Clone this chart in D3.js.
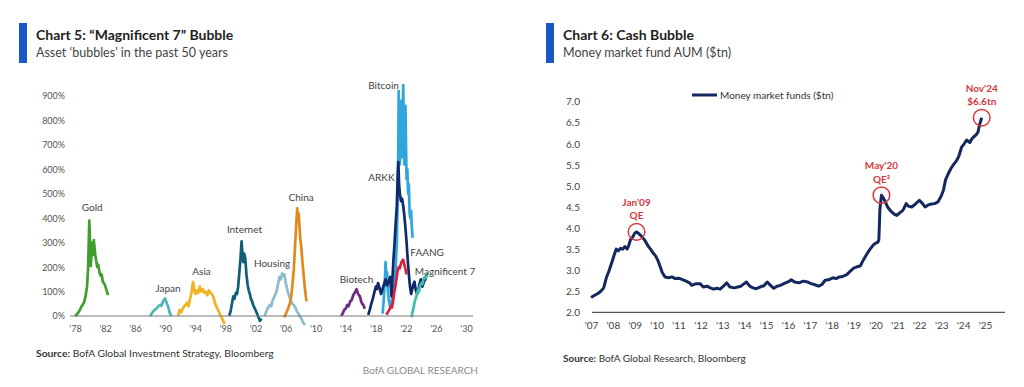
<!DOCTYPE html>
<html><head><meta charset="utf-8">
<script src="https://cdn.jsdelivr.net/npm/d3@7"></script>
<style>html,body{margin:0;padding:0;background:#fff;} svg{display:block;font-family:Lato,"Open Sans",sans-serif;}</style>
</head><body>
<svg id="c" width="1024" height="387"></svg>
<script>
// ---------- Chart 5 data ([year, % gain]) ----------
const gold = [[1978.0,0],[1978.3,8],[1978.6,22],[1978.9,40],[1979.2,55],[1979.4,80],[1979.6,120],[1979.75,200],[1979.9,390],[1980.0,300],[1980.1,205],[1980.2,260],[1980.3,300],[1980.4,250],[1980.5,310],[1980.6,280],[1980.7,250],[1980.8,230],[1980.95,200],[1981.1,210],[1981.25,180],[1981.4,165],[1981.55,170],[1981.7,140],[1981.85,135],[1982.0,125],[1982.15,110],[1982.3,95],[1982.4,85]];
const japan = [[1988.0,0],[1988.3,15],[1988.6,25],[1988.86,31],[1989.1,40],[1989.3,45],[1989.5,42],[1989.7,60],[1989.97,72],[1990.2,52],[1990.4,38],[1990.6,12],[1990.85,0]];
const asia = [[1991.7,0],[1991.9,25],[1992.1,15],[1992.4,35],[1992.7,45],[1992.9,55],[1993.1,40],[1993.3,70],[1993.5,95],[1993.7,140],[1993.85,110],[1994.0,90],[1994.2,105],[1994.4,95],[1994.6,120],[1994.8,100],[1995.0,110],[1995.2,95],[1995.4,100],[1995.6,85],[1995.8,105],[1996.0,95],[1996.2,90],[1996.4,78],[1996.6,55],[1996.85,35],[1997.1,20],[1997.3,5],[1997.5,-5],[1997.7,-20],[1997.9,-32]];
const internet = [[1998.5,0],[1998.7,20],[1998.9,55],[1999.05,80],[1999.2,70],[1999.4,95],[1999.55,90],[1999.7,120],[1999.85,175],[2000.0,230],[2000.15,305],[2000.3,240],[2000.4,220],[2000.5,255],[2000.65,235],[2000.8,170],[2000.95,130],[2001.1,105],[2001.25,90],[2001.4,70],[2001.55,60],[2001.7,45],[2001.85,35],[2002.0,25],[2002.2,10],[2002.4,-5],[2002.6,-20],[2002.8,-10]];
const housing = [[2003.2,0],[2003.4,15],[2003.6,30],[2003.9,45],[2004.1,40],[2004.3,65],[2004.6,85],[2004.8,100],[2005.0,130],[2005.2,160],[2005.4,150],[2005.55,175],[2005.7,165],[2005.85,170],[2006.0,140],[2006.15,120],[2006.3,100],[2006.5,80],[2006.7,65],[2006.9,50],[2007.1,45],[2007.3,35],[2007.5,20],[2007.7,10],[2007.9,0],[2008.1,-10],[2008.3,-25],[2008.6,-37]];
const china = [[2005.8,-5],[2006.0,5],[2006.2,20],[2006.4,35],[2006.6,55],[2006.8,90],[2006.95,140],[2007.1,190],[2007.25,280],[2007.4,360],[2007.55,440],[2007.65,400],[2007.75,420],[2007.85,370],[2007.95,320],[2008.1,280],[2008.25,220],[2008.4,170],[2008.55,120],[2008.7,80],[2008.8,60]];
const biotech = [[2013.4,0],[2013.6,10],[2013.8,25],[2014.0,30],[2014.2,45],[2014.4,40],[2014.6,60],[2014.8,65],[2015.0,85],[2015.2,95],[2015.45,110],[2015.6,95],[2015.75,85],[2015.9,80],[2016.05,60],[2016.2,50],[2016.35,45],[2016.55,30]];
const bitcoin = [[2018.9,10],[2019.05,60],[2019.2,140],[2019.3,220],[2019.4,150],[2019.5,180],[2019.6,110],[2019.75,60],[2019.9,40],[2020.05,55],[2020.2,70],[2020.35,90],[2020.5,130],[2020.65,200],[2020.8,300],[2020.9,450],[2021.0,700],[2021.05,920],[2021.12,750],[2021.2,620],[2021.3,700],[2021.4,880],[2021.48,650],[2021.55,720],[2021.65,945],[2021.72,800],[2021.8,620],[2021.88,760],[2021.95,860],[2022.02,700],[2022.1,560],[2022.2,600],[2022.3,500],[2022.4,540],[2022.5,420],[2022.6,400],[2022.7,430],[2022.8,360],[2022.9,320]];
const arkk = [[2017.0,5],[2017.2,25],[2017.4,50],[2017.6,70],[2017.8,95],[2018.0,120],[2018.15,110],[2018.3,135],[2018.5,115],[2018.7,90],[2018.9,110],[2019.1,130],[2019.3,150],[2019.5,125],[2019.7,140],[2019.9,160],[2020.1,80],[2020.2,140],[2020.35,230],[2020.5,300],[2020.65,380],[2020.8,450],[2020.9,560],[2021.0,630],[2021.1,540],[2021.2,500],[2021.35,470],[2021.5,480],[2021.65,450],[2021.8,410],[2021.95,360],[2022.1,300],[2022.25,230],[2022.4,170],[2022.55,120],[2022.7,90],[2022.85,110],[2023.0,130],[2023.15,140],[2023.3,110],[2023.5,90],[2023.65,100],[2023.8,130],[2024.0,150],[2024.2,120],[2024.4,140],[2024.6,150],[2024.75,165]];
const faang = [[2019.4,5],[2019.6,15],[2019.8,25],[2020.0,40],[2020.15,35],[2020.3,60],[2020.45,95],[2020.6,120],[2020.75,150],[2020.9,185],[2021.05,200],[2021.2,195],[2021.35,215],[2021.5,225],[2021.65,230],[2021.8,210],[2021.95,190],[2022.1,170]];
const mag7 = [[2022.75,-5],[2022.85,10],[2023.0,30],[2023.15,55],[2023.3,70],[2023.45,85],[2023.6,105],[2023.75,100],[2023.9,125],[2024.05,135],[2024.2,130],[2024.35,150],[2024.5,160],[2024.65,155],[2024.8,170],[2024.95,175]];
const bubbleNames = ["Gold","Japan","Asia","Internet","Housing","China","Biotech","Bitcoin","ARKK","FAANG","Magnificent 7"];
const bubbleSeries = [gold,japan,asia,internet,housing,china,biotech,bitcoin,arkk,faang,mag7];
const leftYTicks = [0,100,200,300,400,500,600,700,800,900];
const leftXTicks = [1978,1982,1986,1990,1994,1998,2002,2006,2010,2014,2018,2022,2026,2030];

// ---------- Chart 6 data ([year, $tn]) ----------
const mmf = [[2007.0,2.35],[2007.15,2.40],[2007.3,2.44],[2007.45,2.50],[2007.58,2.58],[2007.7,2.82],[2007.82,2.98],[2007.95,3.18],[2008.05,3.35],[2008.15,3.50],[2008.25,3.46],[2008.35,3.52],[2008.45,3.50],[2008.55,3.56],[2008.65,3.50],[2008.72,3.58],[2008.8,3.72],[2008.9,3.78],[2009.0,3.88],[2009.08,3.91],[2009.2,3.86],[2009.35,3.78],[2009.47,3.70],[2009.6,3.58],[2009.72,3.50],[2009.85,3.40],[2009.95,3.34],[2010.05,3.24],[2010.15,3.10],[2010.25,2.95],[2010.38,2.84],[2010.55,2.82],[2010.7,2.84],[2010.85,2.80],[2011.0,2.81],[2011.15,2.78],[2011.35,2.74],[2011.5,2.70],[2011.6,2.64],[2011.8,2.68],[2011.98,2.68],[2012.13,2.60],[2012.3,2.62],[2012.45,2.58],[2012.6,2.55],[2012.75,2.57],[2012.9,2.55],[2013.05,2.62],[2013.2,2.70],[2013.35,2.60],[2013.55,2.58],[2013.7,2.60],[2013.85,2.62],[2014.0,2.68],[2014.1,2.72],[2014.25,2.62],[2014.4,2.58],[2014.55,2.56],[2014.72,2.60],[2014.9,2.63],[2015.05,2.72],[2015.2,2.64],[2015.35,2.57],[2015.5,2.62],[2015.65,2.64],[2015.86,2.69],[2016.0,2.72],[2016.15,2.77],[2016.3,2.72],[2016.5,2.70],[2016.7,2.74],[2016.9,2.72],[2017.05,2.68],[2017.2,2.66],[2017.4,2.62],[2017.55,2.66],[2017.7,2.76],[2017.9,2.78],[2018.05,2.82],[2018.2,2.80],[2018.35,2.84],[2018.5,2.85],[2018.7,2.90],[2018.85,2.98],[2019.0,3.05],[2019.15,3.08],[2019.3,3.10],[2019.45,3.25],[2019.6,3.38],[2019.75,3.50],[2019.9,3.60],[2020.0,3.64],[2020.1,3.66],[2020.15,3.72],[2020.2,4.45],[2020.27,4.78],[2020.35,4.72],[2020.45,4.62],[2020.55,4.50],[2020.7,4.40],[2020.85,4.33],[2020.97,4.30],[2021.1,4.36],[2021.25,4.42],[2021.4,4.58],[2021.5,4.52],[2021.65,4.50],[2021.8,4.56],[2022.0,4.66],[2022.15,4.58],[2022.26,4.50],[2022.4,4.55],[2022.55,4.57],[2022.7,4.58],[2022.85,4.62],[2023.0,4.76],[2023.1,4.90],[2023.2,5.15],[2023.33,5.30],[2023.45,5.42],[2023.55,5.50],[2023.7,5.60],[2023.8,5.70],[2023.93,5.92],[2024.05,6.00],[2024.16,6.09],[2024.31,6.03],[2024.4,6.12],[2024.5,6.17],[2024.6,6.22],[2024.68,6.28],[2024.75,6.45],[2024.85,6.62]];
const rightYTicks = [2.0,2.5,3.0,3.5,4.0,4.5,5.0,5.5,6.0,6.5,7.0];
const rightXTicks = d3.range(2007, 2026);
const annotations = [
  {date:2009.08, value:3.91, lines:["Jan'09","QE"]},
  {date:2020.27, value:4.78, lines:["May'20","QE²"]},
  {date:2024.85, value:6.62, lines:["Nov'24","$6.6tn"]}
];

const svg = d3.select("#c");
svg.append("rect").attr("width",1024).attr("height",387).attr("fill","#fff");

function header(x, title, sub){
  svg.append("rect").attr("x",x).attr("y",23).attr("width",8).attr("height",40).attr("fill","#1a56c4");
  svg.append("text").attr("x",x+17).attr("y",40).attr("font-size",14).attr("font-weight",700).attr("fill","#222").text(title);
  svg.append("text").attr("x",x+17).attr("y",57).attr("font-size",12.5).attr("fill","#444").text(sub);
}
header(19, "Chart 5: “Magnificent 7” Bubble", "Asset ‘bubbles’ in the past 50 years");
header(546, "Chart 6: Cash Bubble", "Money market fund AUM ($tn)");

// ---------- Left chart ----------
const xL = d3.scaleLinear().domain([1978,2030]).range([75,466]);
const yL = d3.scaleLinear().domain([0,900]).range([316,96]);
const colors = ["#3f9e2c","#4db7b7","#f1b21f","#0f5d78","#8dbdcd","#e2891c","#6b2c7f","#2fa7dc","#0e2a6c","#d8213c","#3cbfaa"];

const gL = svg.append("g");
const yAxL = gL.append("g").attr("transform","translate(65,0)")
  .call(d3.axisLeft(yL).tickValues(leftYTicks).tickSize(0).tickPadding(0).tickFormat(d=>d+"%"));
yAxL.select(".domain").remove();
yAxL.selectAll("text").attr("font-size",9).attr("fill","#555").attr("font-family","Lato,sans-serif");
const xAxL = gL.append("g").attr("transform","translate(0,316)")
  .call(d3.axisBottom(xL).tickValues(leftXTicks).tickSize(0).tickPadding(10).tickFormat(d=>"'"+String(d).slice(2)));
xAxL.select(".domain").remove();
xAxL.selectAll("text").attr("font-size",9).attr("fill","#555").attr("font-family","Lato,sans-serif");

const lineL = d3.line().x(d=>xL(d[0])).y(d=>yL(d[1]));
bubbleSeries.forEach((s,i)=>{
  gL.append("path").datum(s).attr("d",lineL).attr("fill","none")
    .attr("stroke",colors[i]).attr("stroke-width",2.7).attr("stroke-linejoin","round");
});
gL.append("line").attr("x1",70).attr("x2",473).attr("y1",yL(0)).attr("y2",yL(0)).attr("stroke","#7a7a7a").attr("stroke-width",1.2);

// series label anchors [year, value]
const labelPos = [[1978.9,430],[1988.7,100],[1993.6,167],[1998.2,338],[2001.8,201],[2006.4,471],[2013.2,136],[2017.0,927],[2017.0,552],[2022.6,245],[2023.2,167]];
bubbleNames.forEach((n,i)=>{
  gL.append("text").attr("x",xL(labelPos[i][0])).attr("y",yL(labelPos[i][1]))
    .attr("font-size",10).attr("fill","#444").text(n);
});

svg.append("text").attr("x",36).attr("y",357).attr("font-size",10.3).attr("fill","#333")
  .call(t=>{t.append("tspan").attr("font-weight",700).text("Source:"); t.append("tspan").text(" BofA Global Investment Strategy, Bloomberg");});
svg.append("text").attr("x",478).attr("y",374).attr("font-size",10).attr("fill","#8a8a8a").attr("text-anchor","end").text("BofA GLOBAL RESEARCH");

// ---------- Right chart ----------
const xR = d3.scaleLinear().domain([2007,2025]).range([591,985]);
const yR = d3.scaleLinear().domain([2,7]).range([312.3,101.7]);
const gR = svg.append("g");
const yAxR = gR.append("g").attr("transform","translate(580,0)")
  .call(d3.axisLeft(yR).tickValues(rightYTicks).tickSize(0).tickPadding(0).tickFormat(d3.format(".1f")));
yAxR.select(".domain").remove();
yAxR.selectAll("text").attr("font-size",10).attr("fill","#444").attr("font-family","Lato,sans-serif");
const xAxR = gR.append("g").attr("transform","translate(0,312.3)")
  .call(d3.axisBottom(xR).tickValues(rightXTicks).tickSize(0).tickPadding(10).tickFormat(d=>"'"+String(d).slice(2)));
xAxR.select(".domain").remove();
xAxR.selectAll("text").attr("font-size",10).attr("fill","#444").attr("font-family","Lato,sans-serif");
gR.append("line").attr("x1",592).attr("x2",1005).attr("y1",yR(2)).attr("y2",yR(2)).attr("stroke","#555").attr("stroke-width",1.2);

const lineR = d3.line().x(d=>xR(d[0])).y(d=>yR(d[1]));
gR.append("path").datum(mmf).attr("d",lineR).attr("fill","none").attr("stroke","#14285e").attr("stroke-width",3).attr("stroke-linejoin","round");

// legend
gR.append("line").attr("x1",692).attr("x2",717).attr("y1",95).attr("y2",95).attr("stroke","#14285e").attr("stroke-width",3);
gR.append("text").attr("x",720).attr("y",98.5).attr("font-size",10).attr("fill","#333").text("Money market funds ($tn)");

// annotations
annotations.forEach(a=>{
  const cx = xR(a.date), cy = yR(a.value);
  gR.append("circle").attr("cx",cx).attr("cy",cy).attr("r",8.3).attr("fill","none").attr("stroke","#d8373e").attr("stroke-width",1.5);
  a.lines.forEach((l,k)=>{
    gR.append("text").attr("x",cx).attr("y",cy-26+k*13.5).attr("text-anchor","middle")
      .attr("font-size",10).attr("font-weight",700).attr("fill","#d8373e").text(l);
  });
});

svg.append("text").attr("x",563).attr("y",362).attr("font-size",10).attr("fill","#333")
  .call(t=>{t.append("tspan").attr("font-weight",700).text("Source:"); t.append("tspan").text(" BofA Global Research, Bloomberg");});
</script>
</body></html>
